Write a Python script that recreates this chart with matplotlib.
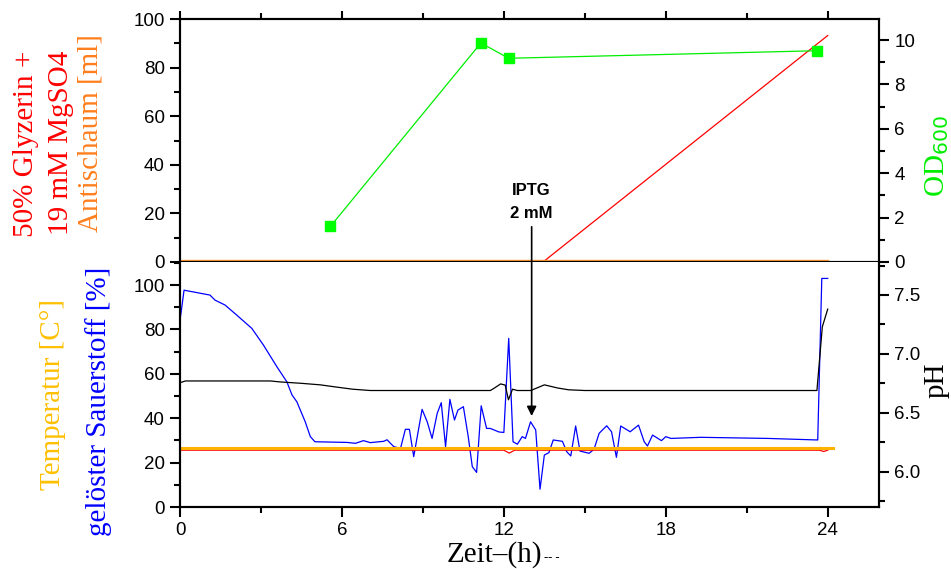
import matplotlib.pyplot as plt
from matplotlib.ticker import MultipleLocator

# OD600 samples
od_t = [5.57, 11.15, 12.18, 23.6]
od_val = [1.6, 9.87, 9.18, 9.52]

# feed (50% Glyzerin + 19 mM MgSO4) and antifoam volumes [ml]
feed_t = [0, 13.45, 24.0]
feed_val = [0, 0, 93.2]
foam_t = [0, 24.0]
foam_val = [1.0, 1.0]

# dissolved oxygen [%]
do_t = [0, 0.15, 1.11, 1.3, 1.67, 2.1, 2.66, 3.09, 3.59, 3.96, 4.15, 4.33, 4.64, 4.83, 5.0,
        6.19, 6.5, 6.8, 7.05, 7.55, 7.67, 7.92, 8.17, 8.35, 8.5, 8.66, 8.97, 9.16, 9.34,
        9.53, 9.68, 9.84, 10.0, 10.17, 10.3, 10.5, 10.68, 10.83, 10.99, 11.16, 11.36,
        11.5, 11.82, 12.0, 12.18, 12.34, 12.5, 12.68, 12.8, 12.99, 13.18, 13.34, 13.5,
        13.67, 13.83, 14.17, 14.33, 14.48, 14.66, 14.82, 15.16, 15.34, 15.53, 15.81,
        15.99, 16.17, 16.33, 16.68, 16.99, 17.2, 17.32, 17.51, 17.84, 18.0, 18.19, 19.3,
        21.78, 23.63, 23.78, 24.0]
do_val = [84, 97.7, 95.5, 93.2, 91, 86.5, 80.5, 73, 63.2, 56.4, 50.5, 47.4, 38.4, 31.7, 29.4,
          29.1, 28.7, 29.9, 29.0, 29.6, 30.3, 27.2, 26.4, 35, 35, 22.7, 44, 38.4, 30.9,
          42.2, 47, 27.2, 48.5, 39.2, 43.7, 45.2, 31.7, 18.2, 15.6, 45.6, 35.4,
          35.4, 33.8, 33.6, 76, 29.4, 28.3, 31.7, 30.9, 38.4, 34.7, 8, 23.4,
          24.5, 30.2, 29.6, 24.9, 23, 36.5, 25.2, 24.2, 26, 33.2, 36.6,
          33.9, 22.4, 36.5, 33.9, 36.9, 29.4, 27.5, 32.4, 29.9, 31.7, 30.9, 31.4,
          30.9, 30.2, 103, 103]

# pH
ph_t = [0, 0.2, 3.35, 3.7, 4.5, 5.2, 5.8, 6.4, 7.05, 9.0, 11.5, 11.65, 11.88, 12.05, 12.17,
        12.32, 12.5, 13.0, 13.5, 14.0, 14.4, 15.0, 17.0, 20.0, 23.6, 23.8, 24.0]
ph_val = [6.755, 6.77, 6.77, 6.762, 6.75, 6.737, 6.718, 6.70, 6.689, 6.689, 6.689, 6.71, 6.745,
          6.735, 6.61, 6.70, 6.689, 6.689, 6.737, 6.71, 6.695, 6.689, 6.689, 6.689, 6.689,
          7.23, 7.38]

# temperature [C]
temp_t = [0, 24.2]
temp_val = [26.5, 26.5]
temp2_t = [0, 12.0, 12.2, 12.4, 23.7, 23.85, 24.0]
temp2_val = [25.6, 25.6, 24.3, 25.6, 25.6, 25.0, 25.6]

serif = 'Liberation Serif'
sans = 'Liberation Sans'
plt.rcParams['font.family'] = sans
plt.rcParams['axes.linewidth'] = 1.5

W, H = 951, 569
fig = plt.figure(figsize=(W / 100, H / 100), dpi=100)


def frac(x0, y0, x1, y1):
    return [x0 / W, 1 - y1 / H, (x1 - x0) / W, (y1 - y0) / H]


ax1 = fig.add_axes(frac(180, 19, 879, 262))
ax1b = ax1.twinx()
ax2 = fig.add_axes(frac(180, 262, 879, 507))
ax2b = ax2.twinx()

# upper panel
ax1.plot(feed_t, feed_val, color='red', lw=0.9)
ax1.plot(foam_t, foam_val, color='#ff9933', lw=1.0)
ax1b.plot(od_t, od_val, color='#00ee00', lw=0.9, marker='s', markersize=7,
          markerfacecolor='#00ff00', markeredgecolor='#00ff00')

ax1.set_xlim(0, 25.9)
ax1.set_ylim(0, 100)
ax1b.set_ylim(0, 10.95)
ax1.yaxis.set_major_locator(MultipleLocator(20))
ax1.yaxis.set_minor_locator(MultipleLocator(10))
ax1b.yaxis.set_major_locator(MultipleLocator(2))
ax1b.yaxis.set_minor_locator(MultipleLocator(1))
ax1.xaxis.set_major_locator(MultipleLocator(6))
ax1.xaxis.set_minor_locator(MultipleLocator(3))
ax1.tick_params(axis='x', which='both', top=True, bottom=True, labelbottom=False,
                direction='out')

# lower panel
ax2.plot(do_t, do_val, color='#0000ff', lw=0.9)
ax2.plot(temp2_t, temp2_val, color='red', lw=0.9)
ax2.plot(temp_t, temp_val, color='#ffb300', lw=2.2)
ax2b.plot(ph_t, ph_val, color='black', lw=0.9)

ax2.set_xlim(0, 25.9)
ax2.set_ylim(0, 110.4)
ax2b.set_ylim(5.70, 7.78)
ax2.yaxis.set_major_locator(MultipleLocator(20))
ax2.yaxis.set_minor_locator(MultipleLocator(10))
ax2b.yaxis.set_major_locator(MultipleLocator(0.5))
ax2b.yaxis.set_minor_locator(MultipleLocator(0.25))
ax2b.yaxis.set_major_formatter(plt.FormatStrFormatter('%.1f'))
ax2.xaxis.set_major_locator(MultipleLocator(6))
ax2.xaxis.set_minor_locator(MultipleLocator(3))
ax2.spines['top'].set_visible(False)
ax2b.spines['top'].set_visible(False)

for ax in (ax1, ax1b, ax2, ax2b):
    ax.tick_params(which='major', length=7, width=1.5, labelsize=13.5, pad=4)
    ax.tick_params(which='minor', length=4, width=1.5)
ax1.tick_params(axis='x', which='both', length=4)
ax1.tick_params(axis='x', which='major', length=6)

# IPTG induction
ax1.text(13.03, 17, 'IPTG\n2 mM', ha='center', va='bottom', fontsize=12,
         fontweight='bold', linespacing=1.6)
ax2.annotate('', xy=(13.03, 41), xycoords=ax2.transData,
             xytext=(13.03, 14.5), textcoords=ax1.transData,
             arrowprops=dict(arrowstyle='-|>', color='black', lw=1.2,
                             mutation_scale=14, shrinkA=0, shrinkB=0),
             annotation_clip=False)

# axis labels
fs = 21
fig.text(26 / W, 1 - 237 / H, '50% Glyzerin +', color='red', family=serif,
         fontsize=fs, rotation=90, ha='center', va='bottom')
fig.text(61 / W, 1 - 235 / H, '19 mM MgSO4', color='red', family=serif,
         fontsize=fs, rotation=90, ha='center', va='bottom')
fig.text(91 / W, 1 - 232 / H, 'Antischaum [ml]', color='#ff7f1e', family=serif,
         fontsize=fs, rotation=90, ha='center', va='bottom')
fig.text(53 / W, 1 - 394 / H, 'Temperatur [C°]', color='#ffc000', family=serif,
         fontsize=fs, rotation=90, ha='center', va='center')
fig.text(99 / W, 1 - 401 / H, 'gelöster Sauerstoff [%]', color='#0000ff',
         family=serif, fontsize=fs, rotation=90, ha='center', va='center')
fig.text(937 / W, 1 - 156 / H, r'OD$_{600}$', color='#00ee00', family=serif,
         fontsize=fs, rotation=90, ha='center', va='center')
fig.text(937 / W, 1 - 380 / H, 'pH', color='black', family=serif,
         fontsize=fs, rotation=90, ha='center', va='center')
fig.text(494 / W, 1 - 562 / H, 'Zeit–(h)', color='black', family=serif,
         fontsize=fs, ha='center', va='baseline')
fig.text(544 / W, 1 - 561 / H, '-- -', color='black', family=serif,
         fontsize=9, ha='left', va='baseline')

fig.savefig('out.png', dpi=100)
